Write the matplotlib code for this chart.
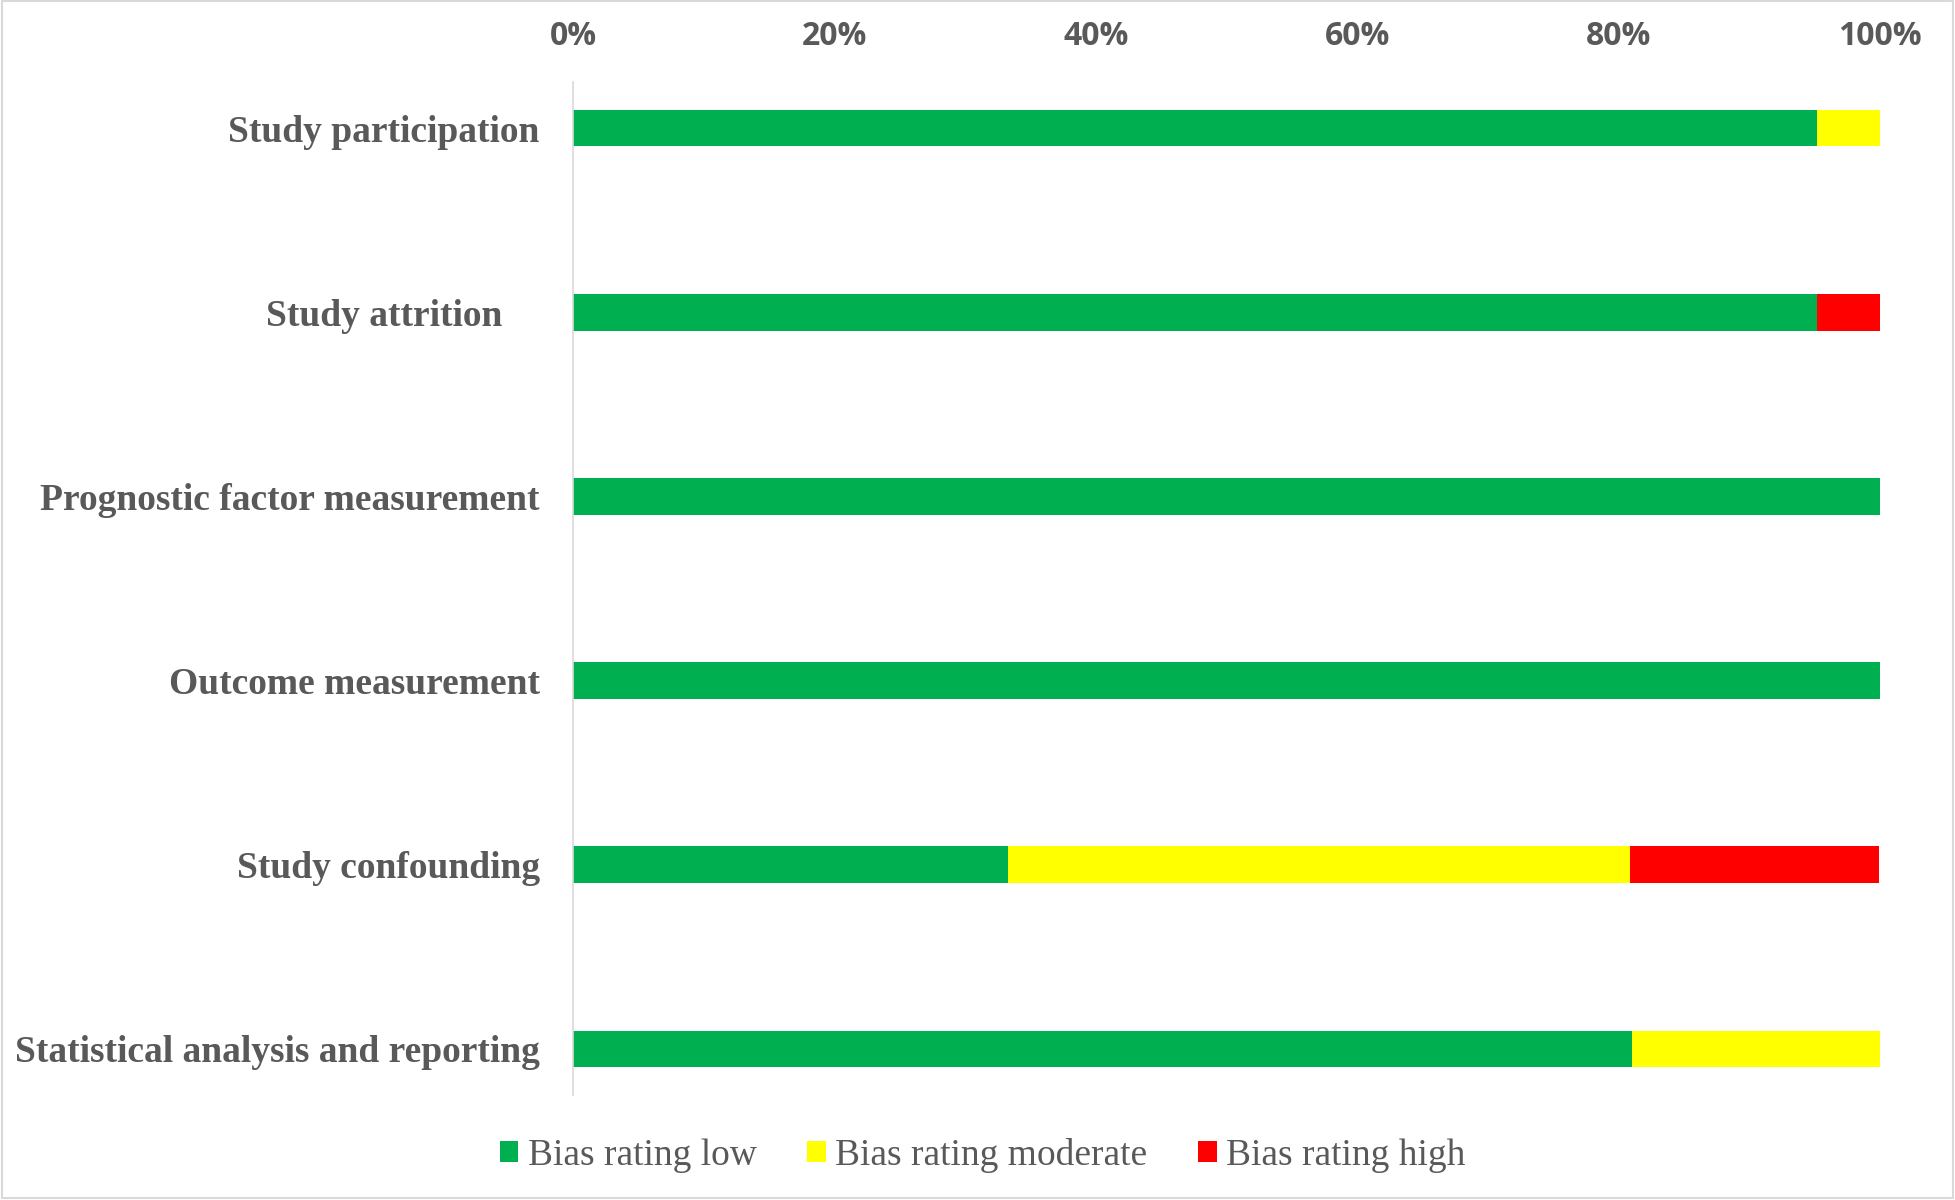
import matplotlib
matplotlib.use("Agg")
import matplotlib.pyplot as plt
from matplotlib.patches import Rectangle
from matplotlib.ticker import PercentFormatter

# Risk-of-bias domains and the share of studies per rating (%)
domains = [
    "Study participation",
    "Study attrition    ",
    "Prognostic factor measurement",
    "Outcome measurement",
    "Study confounding",
    "Statistical analysis and reporting",
]
low = [95.2, 95.2, 100.0, 100.0, 33.3, 81.0]
moderate = [4.8, 0.0, 0.0, 0.0, 47.6, 19.0]
high = [0.0, 4.8, 0.0, 0.0, 19.0, 0.0]
series_names = ["Bias rating low", "Bias rating moderate", "Bias rating high"]
x_ticks = [0, 20, 40, 60, 80, 100]

colors = ["#00B050", "#FFFF00", "#FF0000"]
text_gray = "#595959"

fig = plt.figure(figsize=(19.55, 12), dpi=100)
ax = fig.add_axes([0.2931, 0.0875, 0.9616 - 0.2931, 0.9317 - 0.0875])

ypos = list(range(len(domains)))
left = [0.0] * len(domains)
for vals, col, name in zip([low, moderate, high], colors, series_names):
    ax.barh(ypos, vals, left=left, height=0.2, color=col, label=name, linewidth=0)
    left = [a + b for a, b in zip(left, vals)]

ax.set_xlim(0, 100)
ax.set_ylim(5.25, -0.25)
ax.set_xticks(x_ticks)
ax.xaxis.set_major_formatter(PercentFormatter(decimals=0))
ax.xaxis.tick_top()
ax.tick_params(axis="x", length=0, pad=21, labelsize=23, labelcolor=text_gray)
for t in ax.get_xticklabels():
    t.set_fontweight("bold")
    t.set_fontfamily("Open Sans")

ax.set_yticks(ypos)
ax.set_yticklabels(domains)
ax.tick_params(axis="y", length=0, pad=24, labelsize=27, labelcolor=text_gray)
for t in ax.get_yticklabels():
    t.set_fontweight("bold")
    t.set_fontfamily("Liberation Serif")

for side in ["top", "right", "bottom"]:
    ax.spines[side].set_visible(False)
ax.spines["left"].set_color("#D9D9D9")
ax.spines["left"].set_linewidth(1.2)

leg = fig.legend(
    loc="center", bbox_to_anchor=(0.5026, 0.037), ncol=3, frameon=False,
    prop={"family": "Liberation Serif", "size": 27},
    handlelength=0.5, handleheight=0.5, handletextpad=0.25, columnspacing=1.35,
    labelcolor=text_gray,
)

# Light chart-area border
fig.patches.append(Rectangle((0.001, 0.002), 0.998, 0.997, transform=fig.transFigure,
                             fill=False, edgecolor="#D9D9D9", linewidth=1.5))

fig.savefig("out.png", dpi=100, facecolor="white")
